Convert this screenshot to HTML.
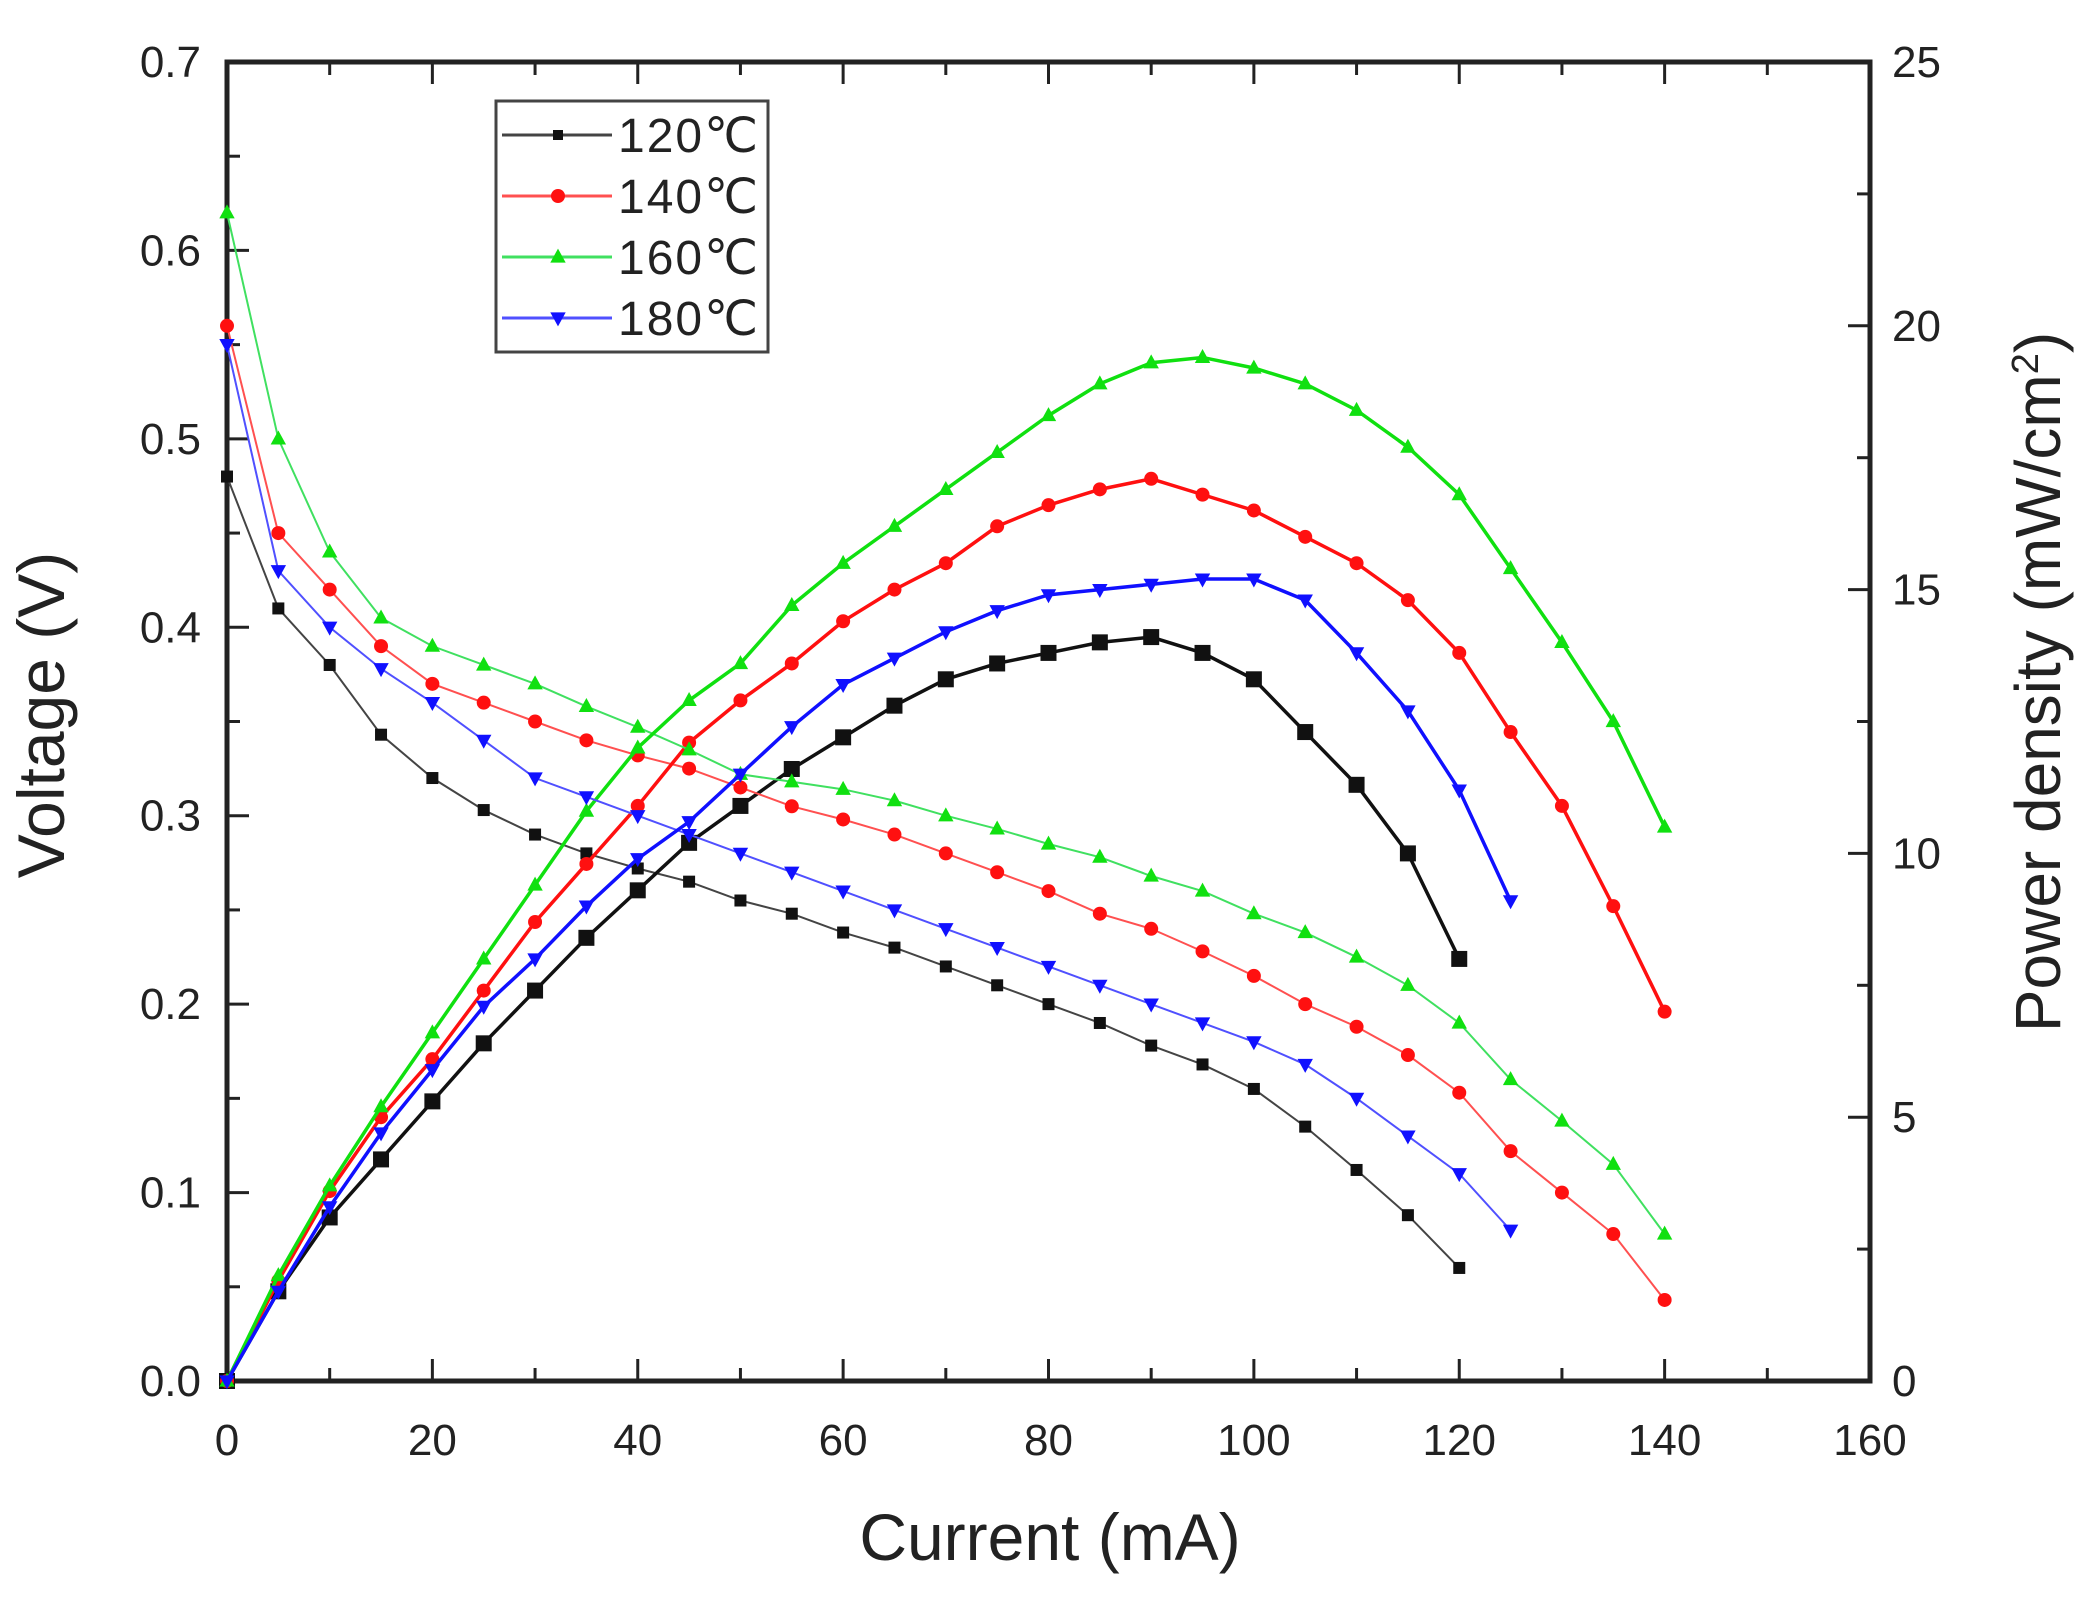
<!DOCTYPE html>
<html><head><meta charset="utf-8"><style>
body{margin:0;background:#fff}
svg text{font-family:"Liberation Sans",sans-serif;fill:#222}
</style></head><body>
<svg id="chart" width="2082" height="1593" xmlns="http://www.w3.org/2000/svg"></svg>
<script>
const currents=[0,5,10,15,20,25,30,35,40,45,50,55,60,65,70,75,80,85,90,95,100,105,110,115,120,125,130,135,140];
const seriesNames=["120℃","140℃","160℃","180℃"];
const v120=[0.48,0.41,0.38,0.343,0.32,0.303,0.29,0.28,0.272,0.265,0.255,0.248,0.238,0.23,0.22,0.21,0.20,0.19,0.178,0.168,0.155,0.135,0.112,0.088,0.06];
const v140=[0.56,0.45,0.42,0.39,0.37,0.36,0.35,0.34,0.332,0.325,0.315,0.305,0.298,0.29,0.28,0.27,0.26,0.248,0.24,0.228,0.215,0.2,0.188,0.173,0.153,0.122,0.1,0.078,0.043];
const v160=[0.62,0.50,0.44,0.405,0.39,0.38,0.37,0.358,0.347,0.335,0.322,0.318,0.314,0.308,0.30,0.293,0.285,0.278,0.268,0.26,0.248,0.238,0.225,0.21,0.19,0.16,0.138,0.115,0.078];
const v180=[0.55,0.43,0.40,0.378,0.36,0.34,0.32,0.31,0.30,0.29,0.28,0.27,0.26,0.25,0.24,0.23,0.22,0.21,0.20,0.19,0.18,0.168,0.15,0.13,0.11,0.08];
const p120=[0,1.7,3.1,4.2,5.3,6.4,7.4,8.4,9.3,10.2,10.9,11.6,12.2,12.8,13.3,13.6,13.8,14.0,14.1,13.8,13.3,12.3,11.3,10.0,8.0];
const p140=[0,1.9,3.6,5.0,6.1,7.4,8.7,9.8,10.9,12.1,12.9,13.6,14.4,15.0,15.5,16.2,16.6,16.9,17.1,16.8,16.5,16.0,15.5,14.8,13.8,12.3,10.9,9.0,7.0];
const p160=[0,2.0,3.7,5.2,6.6,8.0,9.4,10.8,12.0,12.9,13.6,14.7,15.5,16.2,16.9,17.6,18.3,18.9,19.3,19.4,19.2,18.9,18.4,17.7,16.8,15.4,14.0,12.5,10.5];
const p180=[0,1.7,3.3,4.7,5.9,7.1,8.0,9.0,9.9,10.6,11.5,12.4,13.2,13.7,14.2,14.6,14.9,15.0,15.1,15.2,15.2,14.8,13.8,12.7,11.2,9.1];
const xTicks=[0,20,40,60,80,100,120,140,160];
const yTicks=[0.0,0.1,0.2,0.3,0.4,0.5,0.6,0.7];
const y2Ticks=[0,5,10,15,20,25];

const NS="http://www.w3.org/2000/svg";
const svg=document.getElementById('chart');
const L=227,R=1870,T=62,B=1381;
const X=v=>L+(v/160)*(R-L);
const Y=v=>B-(v/0.7)*(B-T);
const Y2=v=>B-(v/25)*(B-T);
function mk(tag,attrs,parent){const e=document.createElementNS(NS,tag);for(const k in attrs)e.setAttribute(k,attrs[k]);(parent||svg).appendChild(e);return e;}

const axes=mk('g',{});


mk('rect',{x:L,y:T,width:R-L,height:B-T,fill:'none',stroke:'#222','stroke-width':5},axes);
for(let v=0;v<=160;v+=10){const major=v%20===0;const len=major?22:13;
 mk('line',{x1:X(v),x2:X(v),y1:B,y2:B-len,stroke:'#222','stroke-width':3},axes);
 mk('line',{x1:X(v),x2:X(v),y1:T,y2:T+len,stroke:'#222','stroke-width':3},axes);}
for(let i=0;i<=14;i++){const v=i*0.05;const major=i%2===0;const len=major?22:13;
 mk('line',{x1:L,x2:L+len,y1:Y(v),y2:Y(v),stroke:'#222','stroke-width':3},axes);}
for(let i=0;i<=10;i++){const v=i*2.5;const major=i%2===0;const len=major?22:13;
 mk('line',{x1:R,x2:R-len,y1:Y2(v),y2:Y2(v),stroke:'#222','stroke-width':3},axes);}
xTicks.forEach(v=>{const t=mk('text',{x:X(v),y:B+74,'font-size':44,'text-anchor':'middle'});t.textContent=v;
 
 });
yTicks.forEach(v=>{const t=mk('text',{x:L-26,y:Y(v)+15,'font-size':44,'text-anchor':'end'});t.textContent=v.toFixed(1);
 
 });
y2Ticks.forEach(v=>{const t=mk('text',{x:R+22,y:Y2(v)+15,'font-size':44,'text-anchor':'start'});t.textContent=v;
 
 });
let t=mk('text',{x:1050,y:1560,'font-size':66,'text-anchor':'middle'});t.textContent='Current (mA)';


t=mk('text',{x:0,y:0,'font-size':66,'text-anchor':'middle',transform:'translate(64,715) rotate(-90)'});t.textContent='Voltage (V)';


t=mk('text',{x:0,y:0,'font-size':64,'text-anchor':'middle',transform:'translate(2060,682) rotate(-90)'});
t.innerHTML='Power density (mW/cm<tspan dy="-22" font-size="38">2</tspan><tspan dy="22">)</tspan>';



function marker(g,shape,x,y,s,color){
 if(shape==='square')return mk('rect',{x:x-s,y:y-s,width:2*s,height:2*s,fill:color},g);
 if(shape==='circle')return mk('circle',{cx:x,cy:y,r:s,fill:color},g);
 if(shape==='up')return mk('polygon',{points:`${x},${y-s*1.2} ${x-s*1.1},${y+s*0.8} ${x+s*1.1},${y+s*0.8}`,fill:color},g);
 return mk('polygon',{points:`${x},${y+s*1.2} ${x-s*1.1},${y-s*0.8} ${x+s*1.1},${y-s*0.8}`,fill:color},g);
}
const colors=['#111','#ff1010','#10e010','#1010ff'];
const lineColors=['#444','#ff5050','#40e060','#5050ff'];
const shapes=['square','circle','up','down'];
const vs=[v120,v140,v160,v180], ps=[p120,p140,p160,p180];
const names=['120','140','160','180'];
for(let s=0;s<4;s++){
 const gv=mk('g',{});
 
 
 mk('polyline',{points:vs[s].map((v,i)=>X(currents[i])+','+Y(v)).join(' '),fill:'none',stroke:lineColors[s],'stroke-width':2},gv);
 vs[s].forEach((v,i)=>marker(gv,shapes[s],X(currents[i]),Y(v),s===0?6:7,colors[s]));
 const gp=mk('g',{});
 
 
 mk('polyline',{points:ps[s].map((v,i)=>X(currents[i])+','+Y2(v)).join(' '),fill:'none',stroke:colors[s],'stroke-width':3.5},gp);
 ps[s].forEach((v,i)=>marker(gp,shapes[s],X(currents[i]),Y2(v),s===0?8:7,colors[s]));
}
const lg=mk('g',{});


mk('rect',{x:496,y:101,width:272,height:251,fill:'#fff',stroke:'#444','stroke-width':3},lg);
for(let s=0;s<4;s++){const y=135+s*61;
 const e=mk('g',{},lg);
 
 
 mk('line',{x1:502,x2:612,y1:y,y2:y,stroke:lineColors[s],'stroke-width':3},e);
 marker(e,shapes[s],558,y,s===0?5:7,colors[s]);
 const tx=mk('text',{x:618,y:y+17,'font-size':48,textLength:140},e);tx.textContent=seriesNames[s];}
</script>
</body></html>
